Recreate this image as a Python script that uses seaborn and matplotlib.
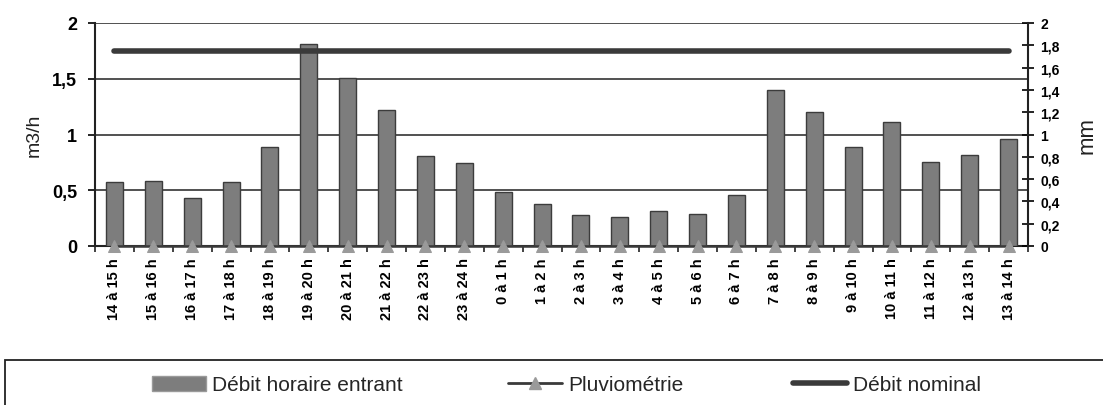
import matplotlib
matplotlib.use("Agg")
import matplotlib.pyplot as plt
from matplotlib.patches import Patch, Rectangle
from matplotlib.lines import Line2D
from matplotlib.ticker import FuncFormatter, FixedLocator
import seaborn as sns
import numpy as np
import pandas as pd

# ---------------- data ----------------
categories = ["14 à 15 h", "15 à 16 h", "16 à 17 h", "17 à 18 h", "18 à 19 h",
              "19 à 20 h", "20 à 21 h", "21 à 22 h", "22 à 23 h", "23 à 24 h",
              "0 à 1 h", "1 à 2 h", "2 à 3 h", "3 à 4 h", "4 à 5 h", "5 à 6 h",
              "6 à 7 h", "7 à 8 h", "8 à 9 h", "9 à 10 h", "10 à 11 h",
              "11 à 12 h", "12 à 13 h", "13 à 14 h"]
debit_horaire = [0.57, 0.58, 0.43, 0.57, 0.89, 1.81, 1.51, 1.22, 0.81, 0.74,
                 0.48, 0.38, 0.28, 0.26, 0.31, 0.29, 0.46, 1.40, 1.20, 0.89,
                 1.11, 0.75, 0.82, 0.96]
pluviometrie = [0, 0, 0, 0, 0, 0, 0, 0, 0, 0, 0, 0,
                0, 0, 0, 0, 0, 0, 0, 0, 0, 0, 0, 0]
debit_nominal = [1.75, 1.75, 1.75, 1.75, 1.75, 1.75, 1.75, 1.75, 1.75, 1.75,
                 1.75, 1.75, 1.75, 1.75, 1.75, 1.75, 1.75, 1.75, 1.75, 1.75,
                 1.75, 1.75, 1.75, 1.75]
left_ticks = [0, 0.5, 1, 1.5, 2]
right_ticks = [0, 0.2, 0.4, 0.6, 0.8, 1, 1.2, 1.4, 1.6, 1.8, 2]
legend_labels = ["Débit horaire entrant", "Pluviométrie", "Débit nominal"]

# ---------------- style ----------------
sns.set_theme(style="white")
base_font = "Liberation Sans"
plt.rcParams["font.family"] = [base_font, "DejaVu Sans"]

bar_color = "#7d7d7d"
bar_edge = "#3c3c3c"
line_dark = "#3a3a3a"

df = pd.DataFrame({
    "cat": categories,
    "debit": debit_horaire,
    "pluvio": pluviometrie,
    "nominal": debit_nominal,
})
df["pos"] = np.arange(len(df))

fig = plt.figure(figsize=(11.03, 4.06), dpi=100)
W, H = 1103, 406
x0, x1, ytop, ybot = 95, 1028, 24, 247
ax = fig.add_axes([x0 / W, 1 - ybot / H, (x1 - x0) / W, (ybot - ytop) / H])

sns.barplot(data=df, x="cat", y="debit", ax=ax, color=bar_color, saturation=1,
            width=0.44, edgecolor=bar_edge, linewidth=1.0, zorder=3)
sns.lineplot(data=df, x="pos", y="nominal", ax=ax, color=line_dark, lw=4,
             legend=False, zorder=4, sort=False)

ax.set_xlim(-0.5, len(categories) - 0.5)
ax.set_ylim(0, 2)
ax.yaxis.set_major_locator(FixedLocator(left_ticks))
ax.yaxis.set_major_formatter(FuncFormatter(lambda v, _: f"{v:g}".replace(".", ",")))
ax.grid(axis="y", color="#222222", lw=1.1, zorder=0)
ax.grid(axis="x", visible=False)
ax.set_xticks(df["pos"])
ax.set_xticklabels(categories, rotation=90, fontsize=10.5, fontweight="bold", va="top")
ax.xaxis.set_minor_locator(FixedLocator(np.arange(len(categories) + 1) - 0.5))
ax.tick_params(axis="x", which="major", length=0, pad=8, colors="black")
ax.tick_params(axis="x", which="minor", length=4, width=1.2, direction="out",
               color="#222222", bottom=True)
ax.tick_params(axis="y", which="major", length=5, width=1.2, direction="out",
               labelsize=13, pad=8, left=True, colors="black")
for lab in ax.get_yticklabels():
    lab.set_fontweight("bold")
ax.set_xlabel("")
ax.set_ylabel("m3/h", fontsize=14, color="#222222")
ax.yaxis.set_label_coords((43 - x0) / (x1 - x0), 0.5)
for s in ["top", "right"]:
    ax.spines[s].set_visible(False)
for s in ["left", "bottom"]:
    ax.spines[s].set_color("#222222")
    ax.spines[s].set_linewidth(1.5)

ax2 = ax.twinx()
sns.lineplot(data=df, x="pos", y="pluvio", ax=ax2, color=line_dark, lw=1.8,
             marker="^", markersize=8, markerfacecolor="#9a9a9a",
             markeredgecolor="#9a9a9a", legend=False, sort=False, zorder=5,
             clip_on=False)
ax2.set_ylim(0, 2)
ax2.yaxis.set_major_locator(FixedLocator(right_ticks))
ax2.yaxis.set_major_formatter(FuncFormatter(lambda v, _: f"{v:.1f}".rstrip("0").rstrip(".").replace(".", ",")))
ax2.tick_params(axis="y", length=8, width=1.2, direction="inout", labelsize=10,
                pad=5, right=True, colors="black")
for lab in ax2.get_yticklabels():
    lab.set_fontweight("bold")
ax2.set_ylabel("mm", fontsize=16, color="#222222", rotation=90)
ax2.yaxis.set_label_coords((1077 - x0) / (x1 - x0), 0.5)
ax2.grid(False)
ax2.set_xlim(-0.5, len(categories) - 0.5)
for s in ["top", "left", "bottom"]:
    ax2.spines[s].set_visible(False)
ax2.spines["right"].set_color("#222222")
ax2.spines["right"].set_linewidth(1.5)

# ---------------- legend ----------------
fig.patches.append(Rectangle((5 / W, -0.05), 1.2, 0.05 + (H - 361) / H,
                             transform=fig.transFigure, facecolor="none",
                             edgecolor="#222222", lw=1.3))
leg_font = dict(family=[base_font], size=15)
handles = [
    Patch(facecolor=bar_color, edgecolor="#9a9a9a"),
    Line2D([], [], color=line_dark, lw=2, marker="^", markersize=8,
           markerfacecolor="#9a9a9a", markeredgecolor="#9a9a9a"),
    Line2D([], [], color=line_dark, lw=4),
]
starts = [152, 508, 793]
for h, lab, xs in zip(handles, legend_labels, starts):
    fig.legend([h], [lab], loc="center left", bbox_to_anchor=(xs / W, 1 - 386 / H),
               frameon=False, borderpad=0, borderaxespad=0, handlelength=2.6,
               handletextpad=0.3, prop=leg_font)

fig.savefig("out.png", dpi=100, facecolor="white")
